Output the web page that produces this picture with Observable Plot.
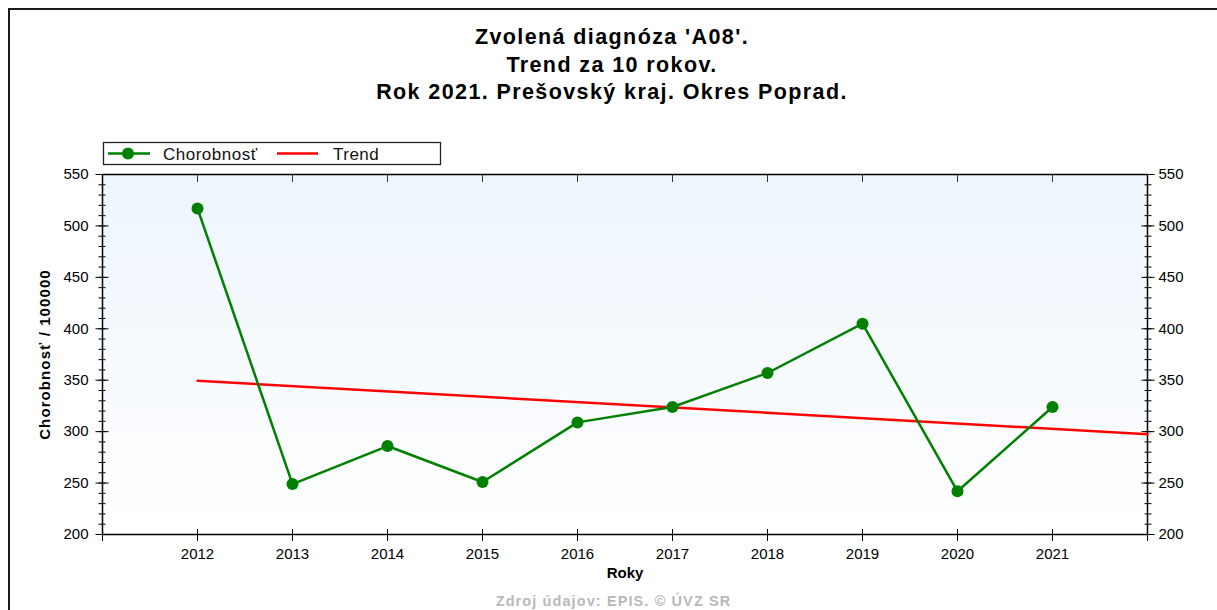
<!DOCTYPE html>
<html>
<head>
<meta charset="utf-8">
<script src="https://cdn.jsdelivr.net/npm/d3@7"></script>
<script src="https://cdn.jsdelivr.net/npm/@observablehq/plot@0.6"></script>
<style>
  html, body { margin: 0; padding: 0; background: #fff; overflow: hidden; }
  #wrap { position: relative; width: 1217px; height: 610px; overflow: hidden; font-family: Arial, "Liberation Sans", sans-serif; }
  #frame { position: absolute; left: 8px; top: 8px; width: 1300px; height: 700px; border-left: 2px solid #1a1a1a; border-top: 2px solid #1a1a1a; box-sizing: border-box; }
  #title { position: absolute; left: 0; width: 1224px; top: 24px; text-align: center; font-weight: bold; font-size: 21.5px; line-height: 27.5px; letter-spacing: 1.4px; color: #000; }
  #legend { position: absolute; left: 0; top: 0; }
  #chart { position: absolute; left: 0; top: 130px; }
  #footer { position: absolute; left: 0; width: 1227px; top: 593px; text-align: center; font-weight: bold; font-size: 14.5px; letter-spacing: 1.1px; color: #b9b9b9; }
</style>
</head>
<body>
<div id="wrap">
  <div id="frame"></div>
  <div id="title"></div>
  <svg id="legend" width="1217" height="170"></svg>
  <div id="chart"></div>
  <div id="footer"></div>
</div>
<script>
// ---- data ----
const titleLines = ["Zvolená diagnóza 'A08'.", "Trend za 10 rokov.", "Rok 2021. Prešovský kraj. Okres Poprad."];
const years = [2012, 2013, 2014, 2015, 2016, 2017, 2018, 2019, 2020, 2021];
const values = [517, 249, 286, 251, 309, 324, 357, 405, 242, 324];
const trendYears = [2012, 2022];
const trendValues = [349.5, 297.5];
const xDomain = [2011, 2022];
const yDomain = [200, 550];
const yMajorTicks = [200, 250, 300, 350, 400, 450, 500, 550];
const yMinorTicks = d3.range(200, 551, 10);
const xEdgeTicks = [2011, ...years, 2022];
const seriesNames = ["Chorobnosť", "Trend"];
const xLabel = "Roky";
const yLabel = "Chorobnosť / 100000";
const footerText = "Zdroj údajov: EPIS. © ÚVZ SR";

const series = years.map((y, i) => ({year: y, value: values[i]}));
const trend = trendYears.map((y, i) => ({year: y, value: trendValues[i]}));

const GREEN = "#008000";
const RED = "#ff0000";

// ---- title & footer ----
document.getElementById("title").innerHTML = titleLines.map(t => `<div>${t}</div>`).join("");
document.getElementById("footer").textContent = footerText;

// ---- legend ----
{
  const svg = d3.select("#legend");
  svg.append("rect").attr("x", 103.5).attr("y", 142.5).attr("width", 337).attr("height", 22)
    .attr("fill", "#fff").attr("stroke", "#222").attr("stroke-width", 1.3);
  svg.append("line").attr("x1", 108).attr("x2", 150).attr("y1", 153.5).attr("y2", 153.5)
    .attr("stroke", GREEN).attr("stroke-width", 2.5);
  svg.append("circle").attr("cx", 128).attr("cy", 153.5).attr("r", 6).attr("fill", GREEN);
  svg.append("text").attr("x", 163).attr("y", 159.5).attr("font-size", 17).attr("font-family", "Arial, 'Liberation Sans', sans-serif").attr("letter-spacing", 0.5).attr("fill", "#111").text(seriesNames[0]);
  svg.append("line").attr("x1", 277).attr("x2", 318).attr("y1", 153.5).attr("y2", 153.5)
    .attr("stroke", RED).attr("stroke-width", 2.5);
  svg.append("text").attr("x", 333).attr("y", 159.5).attr("font-size", 17).attr("font-family", "Arial, 'Liberation Sans', sans-serif").attr("letter-spacing", 0.5).attr("fill", "#111").text(seriesNames[1]);
}

// ---- background gradient mark ----
function gradientBackground(index, scales, values, dim) {
  const g = d3.create("svg:g");
  const defs = g.append("defs");
  const lg = defs.append("linearGradient").attr("id", "bgGrad").attr("x1", 0).attr("y1", 0).attr("x2", 0).attr("y2", 1);
  lg.append("stop").attr("offset", "0%").attr("stop-color", "#edf5fd");
  lg.append("stop").attr("offset", "100%").attr("stop-color", "#ffffff");
  g.append("rect")
    .attr("x", dim.marginLeft)
    .attr("y", dim.marginTop)
    .attr("width", dim.width - dim.marginLeft - dim.marginRight)
    .attr("height", dim.height - dim.marginTop - dim.marginBottom)
    .attr("fill", "url(#bgGrad)");
  return g.node();
}

const font = {fontSize: 15, fill: "#000"};
const noText = () => "";

const chart = Plot.plot({
  width: 1217,
  height: 480,
  marginLeft: 102,
  marginRight: 70,
  marginTop: 44,
  marginBottom: 76,
  style: {fontFamily: "Arial, 'Liberation Sans', sans-serif", fontSize: "15px", color: "#111", background: "transparent", overflow: "visible"},
  x: {domain: xDomain},
  y: {domain: yDomain},
  marks: [
    gradientBackground,
    // left axis: minor, major ticks, labels
    Plot.axisY({anchor: "left", ticks: yMinorTicks, tickSize: 7, dx: 3.5, tickFormat: noText, label: null, stroke: "#000"}),
    Plot.axisY({anchor: "left", ticks: yMajorTicks, tickSize: 13, dx: 6.5, tickFormat: noText, label: null, stroke: "#000"}),
    Plot.axisY({anchor: "left", ticks: yMajorTicks, tickSize: 0, tickPadding: 14, label: null, ...font}),
    // right axis
    Plot.axisY({anchor: "right", ticks: yMinorTicks, tickSize: 7, dx: -3.5, tickFormat: noText, label: null, stroke: "#000"}),
    Plot.axisY({anchor: "right", ticks: yMajorTicks, tickSize: 13, dx: -6.5, tickFormat: noText, label: null, stroke: "#000"}),
    Plot.axisY({anchor: "right", ticks: yMajorTicks, tickSize: 0, tickPadding: 11, label: null, ...font}),
    // bottom axis
    Plot.axisX({anchor: "bottom", ticks: xEdgeTicks, tickSize: 12, dy: -5, tickFormat: noText, label: null, stroke: "#000"}),
    Plot.axisX({anchor: "bottom", ticks: years, tickSize: 0, tickPadding: 14, tickFormat: "d", label: null, ...font}),
    // top axis ticks (inward)
    Plot.axisX({anchor: "top", ticks: years, tickSize: 7, dy: 7, tickFormat: noText, label: null, stroke: "#333"}),
    Plot.frame({stroke: "#000", strokeWidth: 1.5}),
    // axis titles
    Plot.text([xLabel], {frameAnchor: "bottom", dy: 43, text: d => d, fontWeight: "bold", fontSize: 15, letterSpacing: 1, fill: "#000"}),
    Plot.text([yLabel], {frameAnchor: "left", textAnchor: "middle", dx: -57, rotate: -90, text: d => d, fontWeight: "bold", fontSize: 15, fill: "#000"}),
    // trend
    Plot.line(trend, {x: "year", y: "value", stroke: RED, strokeWidth: 2.5}),
    // series
    Plot.line(series, {x: "year", y: "value", stroke: GREEN, strokeWidth: 2.5}),
    Plot.dot(series, {x: "year", y: "value", r: 6, fill: GREEN, stroke: "none"})
  ]
});
document.getElementById("chart").appendChild(chart);
// letter spacing for rotated y label (wider GDI-like rendering)
d3.select(chart).selectAll("text").filter(function() { return this.textContent === yLabel; }).attr("letter-spacing", 1.1);
</script>
</body>
</html>
